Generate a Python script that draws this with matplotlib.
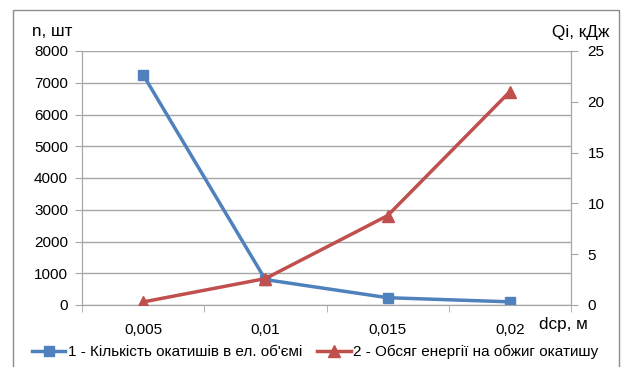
import matplotlib.pyplot as plt
from matplotlib.patches import Rectangle
from matplotlib.lines import Line2D

plt.rcParams['font.family'] = ['Liberation Sans', 'DejaVu Sans']

# diameter categories and series
d_labels = ['0,005', '0,01', '0,015', '0,02']
n_pellets = [7250, 800, 230, 100]
q_energy = [0.3, 2.6, 8.8, 21.0]

blue = '#4F81BD'
red = '#C0504D'
grid_c = '#A6A6A6'
fs = 11
title_fs = 12.3

fig = plt.figure(figsize=(6.24, 3.67), dpi=100)
fig.patches.append(Rectangle((13 / 624, -0.01), 606 / 624, 1 - 10 / 367 + 0.01,
                             transform=fig.transFigure, fill=False,
                             edgecolor='#8C8C8C', linewidth=1.0))

ax = fig.add_axes([82 / 624, 1 - 305 / 367, 489 / 624, 254 / 367])
ax2 = ax.twinx()

x = list(range(len(d_labels)))
ax.plot(x, n_pellets, color=blue, lw=2.5, marker='s', ms=7, zorder=3)
ax2.plot(x, q_energy, color=red, lw=2.5, marker='^', ms=8, zorder=3)

ax.set_xlim(-0.5, len(d_labels) - 0.5)
ax.set_ylim(0, 8000)
ax.set_yticks(range(0, 8001, 1000))
ax2.set_ylim(0, 25)
ax2.set_yticks(range(0, 26, 5))
ax.set_xticks(x)
ax.set_xticklabels(d_labels)
ax.set_xticks([i - 0.5 for i in range(len(d_labels) + 1)], minor=True)

ax.grid(axis='y', color=grid_c, lw=1)
ax.set_axisbelow(True)
for a in (ax, ax2):
    a.spines['top'].set_visible(False)
    for s in ('left', 'right', 'bottom'):
        a.spines[s].set_color(grid_c)
ax.tick_params(axis='x', which='major', length=0, pad=13, labelsize=fs)
ax.tick_params(axis='x', which='minor', length=5, color=grid_c)
ax.tick_params(axis='y', length=5, color=grid_c, labelsize=fs, pad=5)
ax2.tick_params(axis='y', length=5, color=grid_c, labelsize=fs, pad=7)

# axis titles
fig.text(32 / 624, 1 - 32 / 367, 'n, шт', fontsize=title_fs, va='center')
fig.text(552 / 624, 1 - 32 / 367, 'Qi, кДж', fontsize=title_fs, va='center')
fig.text(539 / 624, 1 - 325 / 367, 'dcp, м', fontsize=title_fs, va='center')

handles = [Line2D([], [], color=blue, lw=2.5, marker='s', ms=7),
           Line2D([], [], color=red, lw=2.5, marker='^', ms=8)]
fig.legend(handles, ['1 - Кількість окатишів в ел. об\'ємі',
                     '2 - Обсяг енергії на обжиг окатишу'],
           loc='center', bbox_to_anchor=(315 / 624, 1 - 352 / 367), ncol=2,
           frameon=False, fontsize=fs, handlelength=2.2, handletextpad=0.15,
           columnspacing=1.0)

fig.savefig('out.png', dpi=100)
